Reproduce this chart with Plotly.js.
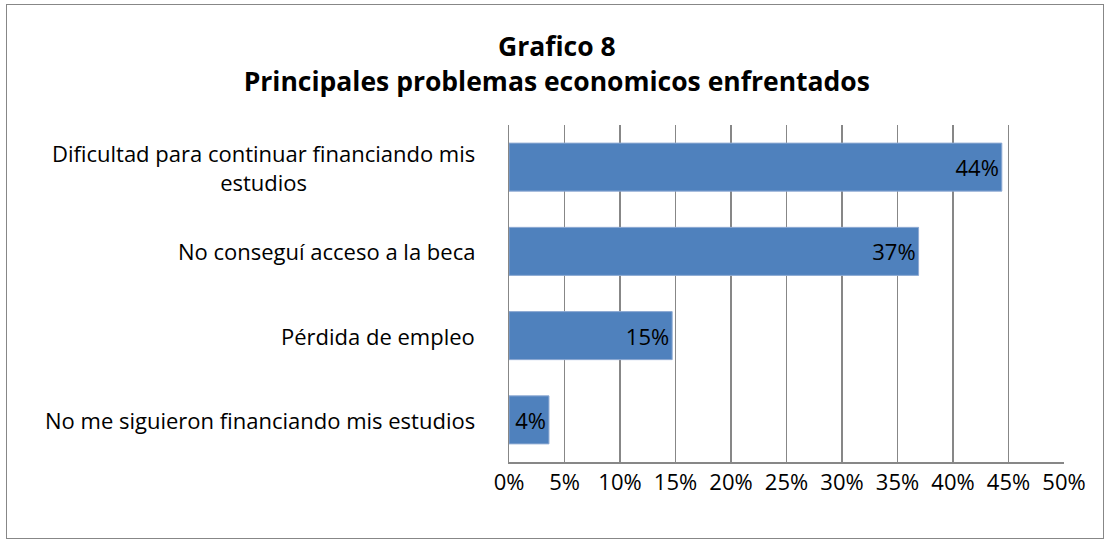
<!DOCTYPE html>
<html>
<head>
<meta charset="utf-8">
<script src="https://cdn.plot.ly/plotly-3.0.1.min.js"></script>
<style>
html,body{margin:0;padding:0;background:#fff;}
#wrap{position:relative;width:1107px;height:541px;}
#chart{width:1107px;height:541px;}
#frame{position:absolute;left:6px;top:4px;width:1098px;height:535px;border:1px solid #878787;pointer-events:none;box-sizing:border-box;}
</style>
</head>
<body>
<div id="wrap"><div id="chart"></div><div id="frame"></div></div>
<script>
var categories = [
  "Dificultad para continuar financiando mis<br>estudios",
  "No conseguí acceso a la beca",
  "Pérdida de empleo",
  "No me siguieron financiando mis estudios"
];
var values = [44.4, 36.9, 14.7, 3.6];
var tickVals = [0, 5, 10, 15, 20, 25, 30, 35, 40, 45, 50];
var tickText = ["0%", "5%", "10%", "15%", "20%", "25%", "30%", "35%", "40%", "45%", "50%"];
var titleText = "<b>Grafico 8</b><br><b>Principales problemas economicos enfrentados</b>";

var FONT = "'Open Sans', sans-serif";

var trace = {
  type: "bar",
  orientation: "h",
  y: categories,
  x: values,
  marker: {color: "#4F81BD", line: {color: "#8EAAD3", width: 1}},
  text: values.map(function(v){ return Math.round(v) + "%"; }),
  textposition: "inside",
  insidetextanchor: "end",
  constraintext: "none",
  textfont: {family: FONT, size: 22, color: "#000"},
  cliponaxis: false,
  hoverinfo: "none"
};

var annotations = categories.map(function(c){
  return {
    xref: "paper", yref: "y", x: 0, y: c, xanchor: "right", yanchor: "middle",
    xshift: -32, text: c, showarrow: false, align: "center",
    font: {family: FONT, size: 22, color: "#000"}
  };
});

var layout = {
  width: 1107, height: 541,
  margin: {l: 509, r: 43, t: 125, b: 79},
  paper_bgcolor: "#fff", plot_bgcolor: "#fff",
  bargap: 0.43,
  showlegend: false,
  title: {
    text: titleText,
    x: 0.503, xanchor: "center",
    y: 0.896, yanchor: "middle",
    font: {family: FONT, size: 26.5, color: "#000"}
  },
  xaxis: {
    range: [0, 50],
    tickvals: tickVals, ticktext: tickText,
    showgrid: true, gridcolor: "#878787", gridwidth: 1.5,
    showline: true, linecolor: "#878787", linewidth: 1.5,
    zeroline: false,
    ticks: "",
    tickfont: {family: FONT, size: 22, color: "#000"},
    fixedrange: true
  },
  yaxis: {
    autorange: "reversed",
    showticklabels: false,
    showline: true, linecolor: "#878787", linewidth: 1.5,
    showgrid: false, zeroline: false, ticks: "",
    fixedrange: true
  },
  annotations: annotations
};

Plotly.newPlot("chart", [trace], layout, {displayModeBar: false, staticPlot: true});
</script>
</body>
</html>
